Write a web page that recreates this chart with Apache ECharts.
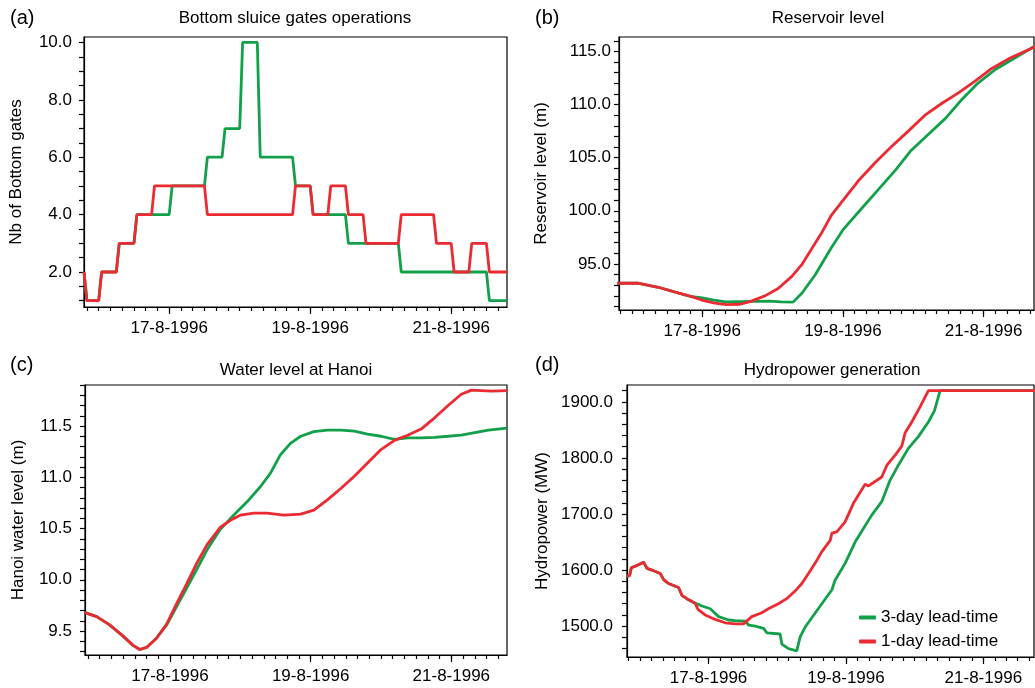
<!DOCTYPE html>
<html>
<head>
<meta charset="utf-8">
<script src="https://cdn.jsdelivr.net/npm/echarts@6/dist/echarts.min.js"></script>
<style>
  html, body { margin: 0; padding: 0; background: #fff; }
  #chart { width: 1035px; height: 688px; }
</style>
</head>
<body>
<div id="chart"></div>
<script>
// hours counted from 15-8-1996 00:00

// (a) bottom sluice gates
var gateHours3 = [19,20,24,25,30,31,36,37,48,49,60,61,66,67,72,73,78,79,90,91,96,97,108,109,126,127,156,157,163];
var gates3     = [2, 1, 1, 2, 2, 3, 3, 4, 4, 5, 5, 6, 6, 7, 7,10,10, 6, 6, 5, 5, 4, 4, 3, 3, 2, 2, 1, 1];
var gateHours1 = [19,20,24,25,30,31,36,37,42,43,60,61,90,91,96,97,102,103,108,109,114,115,126,127,138,139,144,145,150,151,156,157,163];
var gates1     = [2, 1, 1, 2, 2, 3, 3, 4, 4, 5, 5, 4, 4, 5, 5, 4, 4, 5, 5, 4, 4, 3, 3, 4, 4, 3, 3, 2, 2, 3, 3, 2, 2];

// (b) reservoir level
var resHours3 = [19,26,33,40,44,48,52,56,61,66,71,75,79,82,86.5,92,96,102,108,114,119,125,131,136.5,142,148,153.5,162];
var res3      = [93.18,93.18,92.8,92.24,91.95,91.8,91.6,91.42,91.45,91.48,91.5,91.42,91.4,92.24,93.96,96.5,98.2,100.1,101.97,103.85,105.6,107.15,108.7,110.45,112.0,113.3,114.2,115.6];
var resHours1 = [19,26,33,40,44.4,47.8,52.3,56.3,60.9,64.3,69.4,73.9,78.5,81.9,85.3,88.7,92.1,96.1,101.2,106.9,112.6,118.3,124,129.7,135.4,141.1,146.8,152.5,162];
var res1      = [93.18,93.18,92.8,92.24,91.92,91.6,91.3,91.17,91.2,91.45,91.99,92.68,93.8,94.9,96.4,97.9,99.6,101.0,102.8,104.5,106.05,107.5,109.0,110.1,111.1,112.2,113.4,114.3,115.5];

// (c) water level at Hanoi
var hanHours3 = [19,23,27.4,32,35.4,37.7,40,43.4,46.9,50.3,53.7,57.1,60.6,65.1,69.7,74.3,78.9,82.3,85.7,89.1,92.6,97.1,101.7,106.3,110.9,115.4,120,124.6,129.1,133.7,138.3,142.9,147.4,152,156.6,163];
var han3      = [9.68,9.64,9.56,9.45,9.36,9.32,9.34,9.43,9.56,9.74,9.92,10.1,10.29,10.49,10.63,10.76,10.91,11.04,11.22,11.33,11.40,11.445,11.46,11.46,11.45,11.42,11.40,11.37,11.385,11.385,11.39,11.40,11.41,11.435,11.46,11.48];
var hanHours1 = [19,23,27.4,32,35.4,37.7,40,43.4,46.9,50.3,53.7,57.1,60.6,65.1,68.6,72,76.6,81.1,86.9,92.6,97.1,101.7,106.3,110.9,115.4,120,124.6,129.1,133.7,138.3,142.9,147.4,150.9,154.3,157.7,163];
var han1      = [9.68,9.64,9.56,9.45,9.36,9.32,9.34,9.43,9.57,9.77,9.96,10.16,10.34,10.51,10.58,10.63,10.65,10.65,10.63,10.64,10.68,10.78,10.89,11.01,11.14,11.27,11.36,11.41,11.47,11.58,11.70,11.81,11.85,11.845,11.84,11.845];

// (d) hydropower generation
var hydHours3 = [19.5,20.4,21,22.4,25.3,26.5,28.2,31.1,32.3,34,37.5,38.7,40.4,43.3,45.7,48.6,51.5,55,57.3,60.8,62,64.3,67.2,68.4,73,73.6,75.9,78.8,80,81.7,85.2,88.7,91.1,92.2,95.7,99.2,102.1,105,108.5,111.4,114.3,117.8,121.3,124.8,126.9,128.9,162];
var hyd3      = [1589,1590,1604,1607,1614,1603,1600,1594,1583,1576,1569,1555,1549,1541,1536,1531,1517,1511,1510,1509,1502,1500,1496,1488,1486,1468,1460,1456,1481,1498,1523,1548,1565,1582,1612,1650,1674,1698,1722,1760,1787,1817,1838,1864,1884,1920,1920];
var hydHours1 = [19.5,20.4,21,22.4,25.3,26.5,28.2,31.1,32.3,34,37.5,38.7,40.4,43.3,44.3,46.8,50.3,53.8,57.3,60.2,63.1,66.6,68.9,72.4,75.3,78.3,80.6,82.9,85.2,87.6,90.5,91.1,92.8,95.7,98.6,102.7,103.9,108.5,110.3,113.2,115.5,116.7,119,121.9,124.8,162];
var hyd1      = [1589,1590,1604,1607,1614,1603,1600,1594,1583,1576,1569,1555,1549,1541,1530,1520,1512,1506,1504,1504,1517,1524,1531,1540,1549,1563,1576,1594,1612,1633,1653,1666,1668,1686,1719,1753,1750,1766,1787,1805,1821,1845,1864,1891,1920,1920];

var dateTicks = [48, 96, 144];
var seriesNames = ['3-day lead-time', '1-day lead-time'];
var panelTitles = ['Bottom sluice gates operations', 'Reservoir level', 'Water level at Hanoi', 'Hydropower generation'];
var panelLetters = ['(a)', '(b)', '(c)', '(d)'];
var yNames = ['Nb of Bottom gates', 'Reservoir level (m)', 'Hanoi water level (m)', 'Hydropower (MW)'];

var GREEN = '#13a04a';
var RED = '#ec2a32';
var FONT = '"Liberation Sans", Arial, Helvetica, sans-serif';
var FS = 17;

function steps(from, to, step) {
  var out = [];
  for (var v = from; v <= to + 1e-9; v += step) out.push(Math.round(v * 100) / 100);
  return out;
}
function pairs(xs, ys) {
  return xs.map(function (x, i) { return [x, ys[i]]; });
}
function dayLabel(h) {
  return (15 + Math.floor(h / 24)) + '-8-1996';
}

var grids = [
  { left: 84, top: 37, width: 423, height: 270 },
  { left: 619, top: 37, width: 415, height: 273 },
  { left: 85, top: 385, width: 422, height: 270 },
  { left: 627, top: 385, width: 407, height: 272 }
];
var xRanges = [[19, 163], [19.6, 161.2], [19, 163], [19.5, 161.7]];
var yRanges = [[0.78, 10.19], [90.66, 116.36], [9.266, 11.9], [1445, 1930]];
var yLabelVals = [steps(2, 10, 2), steps(95, 115, 5), steps(9.5, 11.5, 0.5), steps(1500, 1900, 100)];
var yTickVals = [steps(1, 10, 0.5), steps(91, 116, 1), steps(9.3, 11.9, 0.1), steps(1460, 1920, 20)];
var yMargins = [12, 8, 13, 14];
var yNameGaps = [59, 69, 58, 76];

var xAxes = [], yAxes = [];
grids.forEach(function (g, i) {
  g.show = true;
  g.borderColor = '#000';
  g.borderWidth = 1.2;
  g.containLabel = false;
  xAxes.push({
    type: 'value', gridIndex: i, position: 'bottom', min: xRanges[i][0], max: xRanges[i][1],
    splitLine: { show: false },
    axisLine: { show: true, onZero: false, lineStyle: { color: '#000', width: 1.2 } },
    axisTick: { show: true, length: 4, customValues: steps(20, 160, 4), lineStyle: { color: '#000', width: 1.2 } },
    axisLabel: { customValues: dateTicks, formatter: dayLabel, color: '#000', fontSize: FS, fontFamily: FONT, margin: 13 }
  });
  xAxes.push({
    type: 'value', gridIndex: i, position: 'bottom', min: xRanges[i][0], max: xRanges[i][1],
    splitLine: { show: false },
    axisLine: { show: false, onZero: false },
    axisTick: { show: true, length: 7, customValues: dateTicks, lineStyle: { color: '#000', width: 1.2 } },
    axisLabel: { show: false }
  });
  yAxes.push({
    type: 'value', gridIndex: i, min: yRanges[i][0], max: yRanges[i][1],
    name: yNames[i], nameLocation: 'middle', nameGap: yNameGaps[i],
    nameTextStyle: { color: '#000', fontSize: FS, fontFamily: FONT },
    splitLine: { show: false },
    axisLine: { show: true, lineStyle: { color: '#000', width: 1.2 } },
    axisTick: { show: true, length: 5, customValues: yTickVals[i], lineStyle: { color: '#000', width: 1.2 } },
    axisLabel: {
      customValues: yLabelVals[i], color: '#000', fontSize: FS, fontFamily: FONT, margin: yMargins[i],
      formatter: function (v) { return v.toFixed(1); }
    }
  });
});

var data3 = [pairs(gateHours3, gates3), pairs(resHours3, res3), pairs(hanHours3, han3), pairs(hydHours3, hyd3)];
var data1 = [pairs(gateHours1, gates1), pairs(resHours1, res1), pairs(hanHours1, han1), pairs(hydHours1, hyd1)];

var series = [];
for (var i = 0; i < 4; i++) {
  series.push({
    name: seriesNames[0], type: 'line', xAxisIndex: 2 * i, yAxisIndex: i,
    data: data3[i], showSymbol: false, symbol: 'none', animation: false,
    lineStyle: { color: GREEN, width: 2.8 }, itemStyle: { color: GREEN }
  });
  series.push({
    name: seriesNames[1], type: 'line', xAxisIndex: 2 * i, yAxisIndex: i,
    data: data1[i], showSymbol: false, symbol: 'none', animation: false,
    lineStyle: { color: RED, width: 2.8 }, itemStyle: { color: RED }
  });
}

var textEls = [];
var titleCenters = [[295, 18], [828, 18], [296, 370], [832, 370]];
var letterPos = [[10, 18], [535, 18], [10, 365], [535, 365]];
for (var k = 0; k < 4; k++) {
  textEls.push({
    type: 'text', x: titleCenters[k][0], y: titleCenters[k][1],
    style: { text: panelTitles[k], fill: '#000', font: FS + 'px ' + FONT, textAlign: 'center', textVerticalAlign: 'middle' }
  });
  textEls.push({
    type: 'text', x: letterPos[k][0], y: letterPos[k][1],
    style: { text: panelLetters[k], fill: '#000', font: '20px ' + FONT, textAlign: 'left', textVerticalAlign: 'middle' }
  });
}

var chart = echarts.init(document.getElementById('chart'), null, { renderer: 'canvas' });
chart.setOption({
  animation: false,
  backgroundColor: '#fff',
  grid: grids,
  xAxis: xAxes,
  yAxis: yAxes,
  series: series,
  legend: {
    data: seriesNames, orient: 'vertical', left: 854, top: 604,
    icon: 'roundRect', itemWidth: 17, itemHeight: 4, itemGap: 7,
    textStyle: { color: '#000', fontSize: FS, fontFamily: FONT }
  },
  graphic: textEls
});
</script>
</body>
</html>
